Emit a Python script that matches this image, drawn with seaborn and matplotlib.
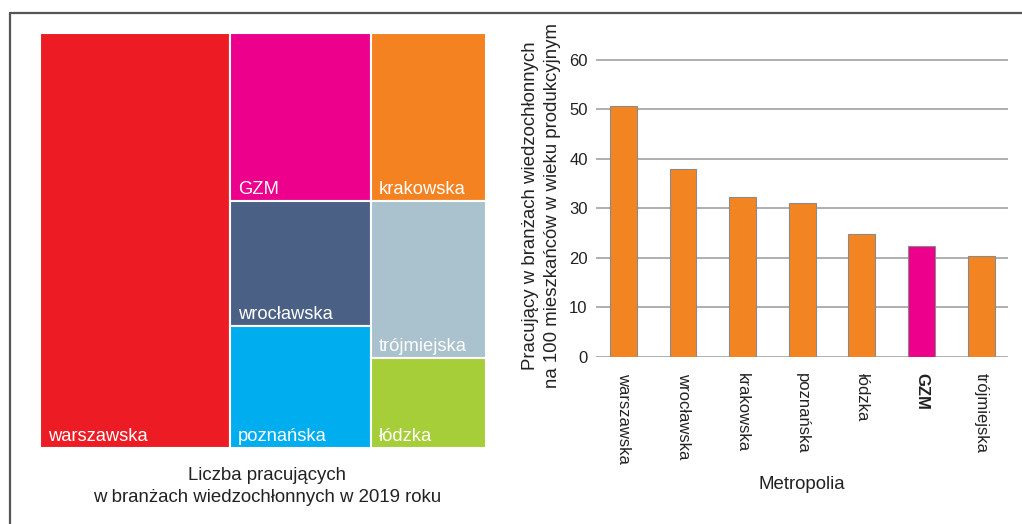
import matplotlib
matplotlib.use("Agg")
import matplotlib.pyplot as plt
import seaborn as sns
import pandas as pd
from matplotlib.patches import Rectangle
from matplotlib.lines import Line2D
from matplotlib import font_manager

tm_names = ['warszawska', 'GZM', 'wrocławska', 'poznańska', 'krakowska', 'trójmiejska', 'łódzka']
tm_values = [393, 118, 88, 86, 97, 90, 52]
tm_columns = [['warszawska'], ['GZM', 'wrocławska', 'poznańska'], ['krakowska', 'trójmiejska', 'łódzka']]
tm_colors = ['#ED1C24', '#EC008C', '#4B6085', '#00AEEF', '#F58220', '#A9C2CE', '#A6CE39']

# wykres slupkowy: pracujacy na 100 mieszkancow w wieku produkcyjnym
metropolie = ['warszawska', 'wrocławska', 'krakowska', 'poznańska', 'łódzka', 'GZM', 'trójmiejska']
pracujacy = [50.6, 37.9, 32.3, 31.0, 24.8, 22.4, 20.4]
bar_colors = ['#F28522', '#F28522', '#F28522', '#F28522', '#F28522', '#EC008C', '#F28522']

sns.set_style('white')
plt.rcParams['font.family'] = ['Liberation Sans', 'DejaVu Sans']

# wezszy krój dla wiekszych napisow, jesli jest
installed = {f.name for f in font_manager.fontManager.ttflist}
if 'Liberation Sans Narrow' in installed:
    big_font = ['Liberation Sans Narrow', 'DejaVu Sans']
    big_size = 16
else:
    big_font = ['Liberation Sans', 'DejaVu Sans']
    big_size = 13.4

fig = plt.figure(figsize=(10.22, 5.24), dpi=100)

# ---- treemap ----
ax1 = fig.add_axes([40/1022, 1 - 448/524, 446/1022, 415/524])
ax1.set_xlim(0, 1)
ax1.set_ylim(0, 1)
ax1.axis('off')
val = dict(zip(tm_names, tm_values))
col = dict(zip(tm_names, tm_colors))
total = sum(tm_values)
x0 = 0
for group in tm_columns:
    gsum = sum(val[n] for n in group)
    w = gsum / total
    y_top = 1
    for n in group:
        h = val[n] / gsum
        ax1.add_patch(Rectangle((x0, y_top - h), w, h, facecolor=col[n],
                                edgecolor='white', linewidth=1.5))
        ax1.text(x0 + 8/446, y_top - h + 7/415, n, color='white', fontsize=13.2,
                 family=big_font, ha='left', va='baseline')
        y_top -= h
    x0 += w
ax1.text(0.51, -19/415, 'Liczba pracujących\nw branżach wiedzochłonnych w 2019 roku',
         transform=ax1.transAxes, ha='center', va='top', fontsize=big_size,
         family=big_font, linespacing=1.4, color='#222222')

# ---- bar chart ----
ax2 = fig.add_axes([596/1022, 1 - 356.7/524, 412/1022, 299.2/524])
df = pd.DataFrame({'Metropolia': metropolie, 'val': pracujacy})
sns.barplot(data=df, x='Metropolia', y='val', hue='Metropolia',
            palette=dict(zip(metropolie, bar_colors)), legend=False, saturation=1,
            width=0.45, edgecolor='#8a8a8a', linewidth=0.8, ax=ax2, zorder=3)
ax2.set_ylim(0, 60.5)
ax2.set_xlim(-0.461, 6.451)
ax2.set_yticks([0, 10, 20, 30, 40, 50, 60])
ax2.yaxis.grid(True, color='#9a9a9a', linewidth=1.1)
ax2.set_axisbelow(True)
for s in ax2.spines.values():
    s.set_visible(False)
ax2.tick_params(axis='y', length=0, pad=6, labelsize=12, labelcolor='#222222')
ax2.tick_params(axis='x', length=0, pad=12, labelsize=12, labelcolor='#222222')
for lab in ax2.get_xticklabels():
    lab.set_rotation(-90)
    lab.set_va('top')
    lab.set_ha('center')
    if lab.get_text() == 'GZM':
        lab.set_fontweight('bold')
ax2.set_ylabel('Pracujący w branżach wiedzochłonnych\nna 100 mieszkańców w wieku produkcyjnym',
               fontsize=big_size, family=big_font, linespacing=1.4, color='#222222')
ax2.yaxis.set_label_coords(-0.085, 0.505)
ax2.set_xlabel('Metropolia', fontsize=big_size, family=big_font, color='#222222')
ax2.xaxis.set_label_coords(0.5, -0.4)
ax2.xaxis.label.set_va('top')

# ramka
fig.add_artist(Line2D([10/1022, 1], [1 - 12.5/524, 1 - 12.5/524], color='#555555', linewidth=1.6))
fig.add_artist(Line2D([10/1022, 10/1022], [0, 1 - 12.5/524], color='#555555', linewidth=1.6))

fig.savefig('out.png', dpi=100)
